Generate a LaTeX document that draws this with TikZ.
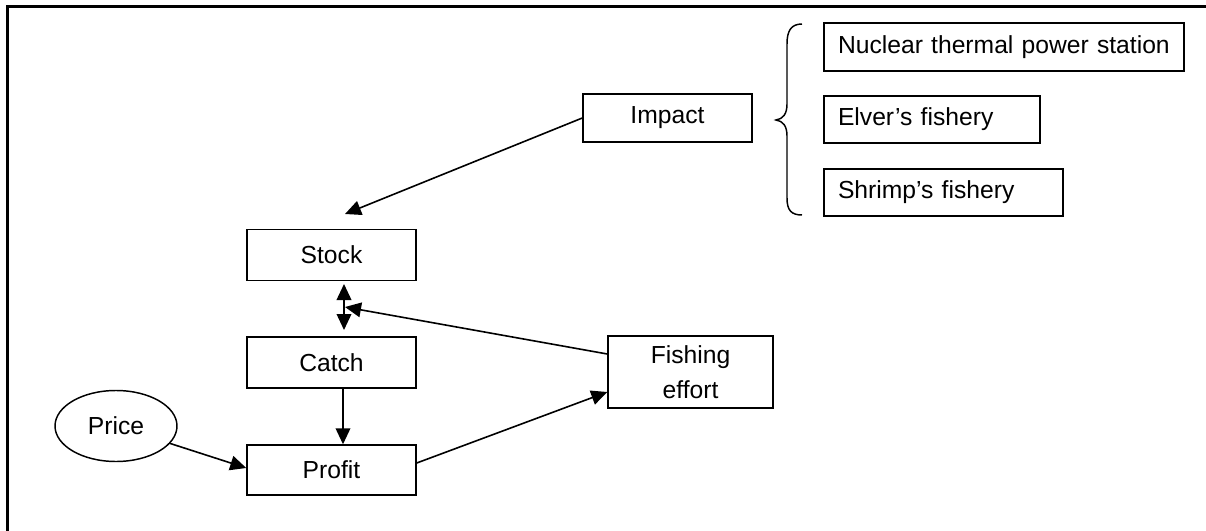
\documentclass[tikz,border=0pt]{standalone}
\usepackage{fontspec}
\setmainfont{Liberation Sans}
\usetikzlibrary{arrows.meta,calc,shapes.geometric}
\begin{document}
\begin{tikzpicture}[x=0.75pt,y=-0.75pt,
  font=\fontsize{18.5pt}{26pt}\selectfont,
  box/.style={draw,line width=1.1pt,inner sep=0pt,align=center},
  listbox/.style={draw,line width=1.1pt,inner xsep=10.5pt,inner ysep=0pt,align=left},
  arr/.style={line width=1.2pt,-{Triangle[length=12pt,width=11pt]}},
  darr/.style={line width=1.2pt,{Triangle[length=12pt,width=11pt]}-{Triangle[length=12pt,width=11pt]}}]
\useasboundingbox (0,0) rectangle (1206,531);
% frame
\draw[line width=1.9pt] (1206,6.5) -- (7.5,6.5) -- (7.5,531);
% nodes
\node[box,minimum width=169*0.75pt,minimum height=48*0.75pt] (impact) at (667.5,118) {Impact};
\node[listbox,text width=332*0.75pt,minimum height=48*0.75pt] (nuclear) at (1004,47) {Nuclear thermal power station};
\node[listbox,text width=188*0.75pt,minimum height=47*0.75pt] (elver) at (932,119.5) {Elver’s fishery};
\node[listbox,text width=211*0.75pt,minimum height=47*0.75pt] (shrimp) at (943.5,192.5) {Shrimp’s fishery};
\node[box,minimum width=169*0.75pt,minimum height=51*0.75pt] (stock) at (331.5,255) {Stock};
\node[box,minimum width=169*0.75pt,minimum height=51*0.75pt] (catch) at (331.5,362.5) {Catch};
\node[box,minimum width=165*0.75pt,minimum height=72*0.75pt] (effort) at (690.5,372) {Fishing\\effort};
\node[box,minimum width=169*0.75pt,minimum height=50*0.75pt] (profit) at (331.5,470) {Profit};
\node[draw,ellipse,line width=1.1pt,inner sep=0pt,minimum width=122*0.75pt,minimum height=71*0.75pt] (price) at (116,426) {Price};
% brace
\draw[line width=1.1pt] (802,24) .. controls (791,24) and (787,31) .. (787,44) -- (787,104)
  .. controls (787,114) and (783,119) .. (776,120)
  .. controls (783,121) and (787,126) .. (787,136) -- (787,198)
  .. controls (787,210) and (791,215) .. (802,215);
% coordinates
\coordinate (stockin) at (345,214);
\coordinate (dtop) at (344,284);
\coordinate (dbot) at (344,330);
\coordinate (effin) at (345,307);
% connectors
\draw[arr] (impact.west) -- (stockin);
\draw[darr] (dtop) -- (dbot);
\draw[arr] ($(effort.west)+(0,-18)$) -- (effin);
\draw[arr] ($(catch.south)+(11.5,0)$) -- ($(profit.north)+(11.5,0)$);
\draw[arr] (price) -- ($(profit.west)+(0,-2)$);
\draw[arr] ($(profit.east)+(0,-7)$) -- ($(effort.west)+(0,20)$);
\end{tikzpicture}
\end{document}
